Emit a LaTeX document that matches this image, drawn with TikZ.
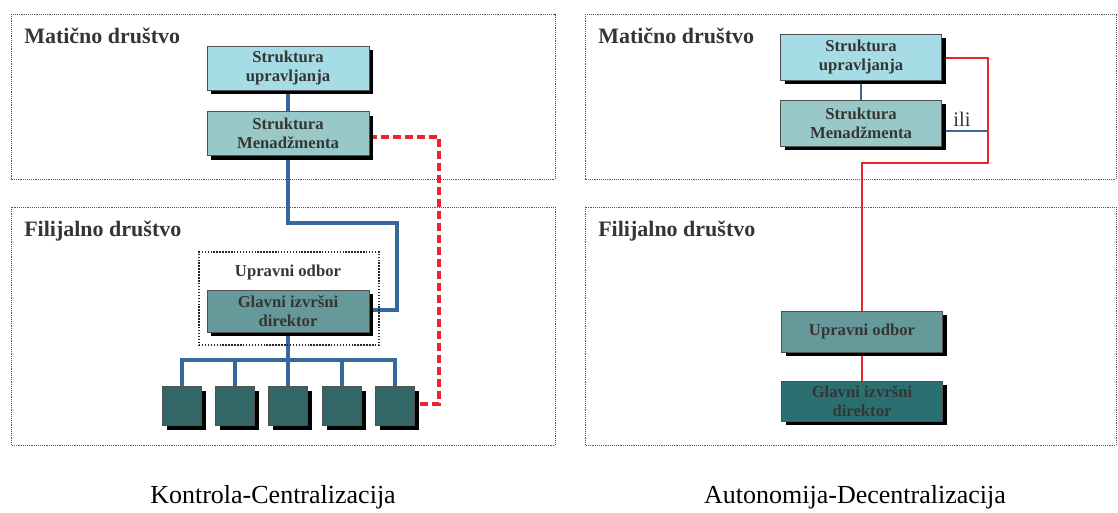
\documentclass[tikz,border=0pt]{standalone}
\usepackage{fontspec}
\setmainfont{Liberation Serif}
\usetikzlibrary{shadows,backgrounds}
\definecolor{cUpr}{HTML}{A6DCE6}
\definecolor{cMen}{HTML}{99C8C8}
\definecolor{cGl}{HTML}{669999}
\definecolor{cSm}{HTML}{336666}
\definecolor{cGlR}{HTML}{2A7070}
\definecolor{cTxt}{HTML}{353535}
\definecolor{cBord}{HTML}{505050}
\definecolor{cBlue}{HTML}{36699B}
\definecolor{cRed}{HTML}{E8262B}
\begin{document}
\begin{tikzpicture}[x=0.75pt,y=-0.75pt,
  panel/.style={draw=black!65, line width=0.7pt, dash pattern=on 0.7pt off 0.7pt},
  board/.style={draw=black!85, line width=1.1pt, dash pattern=on 1.1pt off 1.1pt, minimum width=135pt, minimum height=69.75pt, inner sep=0pt},
  title/.style={anchor=base west, text=cTxt, font=\bfseries\fontsize{16.5}{19}\selectfont, inner sep=0pt},
  box/.style={draw=cBord, line width=0.7pt, text=cTxt, align=center, inner sep=0pt,
    font=\bfseries\fontsize{12.5}{14.3}\selectfont,
    drop shadow={shadow xshift=3.2pt, shadow yshift=-3.2pt, fill=black, opacity=1}},
  bigbox/.style={box, minimum width=121.5pt, minimum height=33pt},
  rbox/.style={box, minimum width=120.75pt, minimum height=34.5pt},
  small/.style={box, fill=cSm, minimum width=29pt, minimum height=29pt},
  blueL/.style={draw=cBlue, line width=2.3pt},
  redL/.style={draw=cRed, line width=2.4pt, dash pattern=on 6pt off 3pt},
  blueR/.style={draw=cBlue, line width=1.4pt},
  redR/.style={draw=cRed, line width=1.6pt},
  caption/.style={text=black, font=\fontsize{19.5}{22}\selectfont, inner sep=0pt}
]
\useasboundingbox (0,0) rectangle (1118,512);

% panels
\draw[panel] (11,14) rectangle (555,179);
\draw[panel] (11,207) rectangle (555,445);
\draw[panel] (585,14) rectangle (1116,179);
\draw[panel] (585,207) rectangle (1116,445);

\node[title] (t1) at (24,43) {Matično društvo};
\node[title] (t2) at (24,236) {Filijalno društvo};
\node[title] (t3) at (598,43) {Matično društvo};
\node[title] (t4) at (598,236) {Filijalno društvo};

% left diagram
\node[board] (UOL) at (289,298.5) {};
\node[text=cTxt, font=\bfseries\fontsize{12.5}{14.3}\selectfont, inner sep=0pt] (UOLt) at (288,272) {Upravni odbor};
\node[bigbox, fill=cUpr] (LU) at (288,68) {Struktura\\upravljanja};
\node[bigbox, fill=cMen] (LM) at (288,133.5) {Struktura\\Menadžmenta};
\node[bigbox, fill=cGl, minimum height=31.5pt] (LG) at (288,311) {Glavni izvršni\\direktor};
\node[small] (b1) at (182,406) {};
\node[small] (b2) at (235,406) {};
\node[small] (b3) at (288,406) {};
\node[small] (b4) at (342,406) {};
\node[small] (b5) at (395,406) {};

\coordinate (bl1) at (288,223);
\coordinate (bl2) at (397,223);
\coordinate (bl3) at (397,310);
\coordinate (bus) at (288,360);
\coordinate (r1) at (439,137);
\coordinate (r2) at (439,404);

% right diagram
\node[rbox, fill=cUpr] (RU) at (861,57) {Struktura\\upravljanja};
\node[rbox, fill=cMen] (RM) at (861,123) {Struktura\\Menadžmenta};
\node[rbox, fill=cGl, minimum height=30.75pt] (RO) at (862,331.5) {Upravni odbor};
\node[rbox, fill=cGlR, minimum height=30pt] (RG) at (862,401) {Glavni izvršni\\direktor};
\coordinate (q1) at (988,58);
\coordinate (q2) at (988,163);
\coordinate (q3) at (988,131);
\coordinate (q4) at (862,163);
\node[text=cTxt, font=\fontsize{15.5}{17}\selectfont, anchor=base, inner sep=0pt] (ili) at (962,126) {ili};

\node[caption] (c1) at (273,497) {Kontrola-Centralizacija};
\node[caption] (c2) at (855,497) {Autonomija-Decentralizacija};

\begin{scope}[on background layer]
  \draw[blueL] (LU.south) -- (LM.north);
  \draw[blueL] (LM.south) -- (bl1) -- (bl2) -- (bl3) -- (LG.east |- bl3);
  \draw[blueL] (LG.south) -- (bus);
  \draw[blueL] (b1.north) -- (b1.north |- bus) -- (b5.north |- bus) -- (b5.north);
  \draw[blueL] (b2.north) -- (b2.north |- bus);
  \draw[blueL] (b3.north) -- (bus);
  \draw[blueL] (b4.north) -- (b4.north |- bus);
  \draw[redL] (LM.east |- r1) -- (r1) -- (r2) -- (b5.east |- r2);

  \draw[blueR] (RU.south) -- (RM.north);
  \draw[redR] (RU.east |- q1) -- (q1) -- (q2) -- (q4) -- (RO.north);
  \draw[redR] (RO.south) -- (RG.north);
  \draw[blueR] (RM.east |- q3) -- (q3);
\end{scope}
\end{tikzpicture}
\end{document}
